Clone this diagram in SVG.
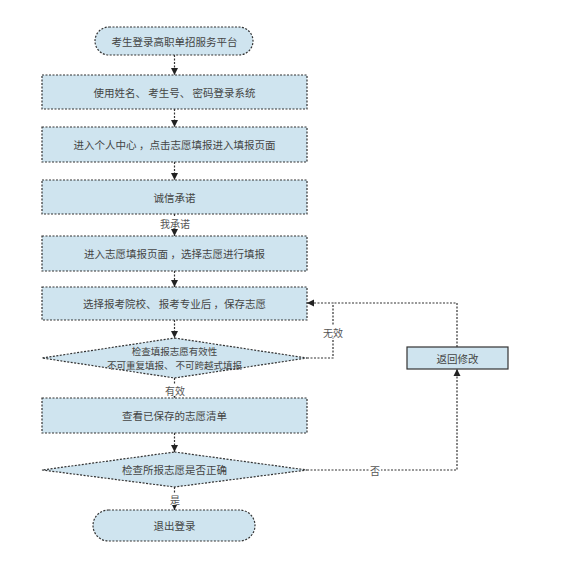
<svg xmlns="http://www.w3.org/2000/svg" width="564" height="574" viewBox="0 0 564 574">
<defs>
<style>
.n{fill:#cfe4ef;stroke:#333;stroke-width:1.2;stroke-dasharray:2 1.5}
.t{font-family:"Noto Sans CJK SC","Liberation Sans",sans-serif;font-size:10.5px;fill:#444;text-anchor:middle;dominant-baseline:central}
.d{font-size:9.5px}
.c{fill:none;stroke:#333;stroke-width:1.2;stroke-dasharray:2 1.5}
.l{font-family:"Noto Sans CJK SC","Liberation Sans",sans-serif;font-size:10px;fill:#555;text-anchor:middle;dominant-baseline:central}
</style>
<marker id="a" markerWidth="8" markerHeight="8" refX="7" refY="4" orient="auto" markerUnits="userSpaceOnUse"><path d="M0,0.5 L7,4 L0,7.5 Z" fill="#222"/></marker>
</defs>
<rect width="564" height="574" fill="#fff"/>
<g id="start"><rect class="n" x="95" y="27" width="158" height="28" rx="14"/><text class="t" x="174.5" y="41">考生登录高职单招服务平台</text></g>
<g id="login"><rect class="n" x="42" y="75" width="265" height="34"/><text class="t" x="174.5" y="92">使用姓名、 考生号、 密码登录系统</text></g>
<g id="center"><rect class="n" x="42" y="127" width="265" height="35"/><text class="t" x="174.5" y="144.5">进入个人中心 ，点击志愿填报进入填报页面</text></g>
<g id="promise"><rect class="n" x="42" y="180" width="265" height="34"/><text class="t" x="174.5" y="197">诚信承诺</text></g>
<g id="fill"><rect class="n" x="42" y="236" width="265" height="35"/><text class="t" x="174.5" y="253.5">进入志愿填报页面 ，选择志愿进行填报</text></g>
<g id="save"><rect class="n" x="42" y="287" width="265" height="33"/><text class="t" x="174.5" y="303.5">选择报考院校、 报考专业后 ，保存志愿</text></g>
<g id="check1"><polygon class="n" points="174.5,338 307,358 174.5,378 42,358"/><text class="t d" x="174.5" y="351">检查填报志愿有效性</text><text class="t d" x="174.5" y="365">不可重复填报、 不可跨越式填报</text></g>
<g id="list"><rect class="n" x="42" y="398" width="265" height="35"/><text class="t" x="174.5" y="415.5">查看已保存的志愿清单</text></g>
<g id="check2"><polygon class="n" points="174.5,452 307,470 174.5,487 42,470"/><text class="t" x="174.5" y="469.5">检查所报志愿是否正确</text></g>
<g id="end"><rect class="n" x="93" y="510" width="162" height="31" rx="15.5"/><text class="t" x="174.5" y="525.5">退出登录</text></g>
<g id="back"><rect class="n" x="407" y="347" width="101" height="22" style="stroke-dasharray:none"/><text class="t" x="457.5" y="358">返回修改</text></g>
<g id="connectors">
<line class="c" x1="174.5" y1="55" x2="174.5" y2="75" marker-end="url(#a)"/>
<line class="c" x1="174.5" y1="109" x2="174.5" y2="127" marker-end="url(#a)"/>
<line class="c" x1="174.5" y1="162" x2="174.5" y2="180" marker-end="url(#a)"/>
<line class="c" x1="174.5" y1="214" x2="174.5" y2="236" marker-end="url(#a)"/>
<line class="c" x1="174.5" y1="271" x2="174.5" y2="287" marker-end="url(#a)"/>
<line class="c" x1="174.5" y1="320" x2="174.5" y2="338" marker-end="url(#a)"/>
<line class="c" x1="174.5" y1="378" x2="174.5" y2="398" marker-end="url(#a)"/>
<line class="c" x1="174.5" y1="433" x2="174.5" y2="452" marker-end="url(#a)"/>
<line class="c" x1="174.5" y1="487" x2="174.5" y2="510" marker-end="url(#a)"/>
<polyline class="c" points="307,358 333,358 333,303 307,303" marker-end="url(#a)"/>
<polyline class="c" points="457,347 457,303 333,303"/>
<polyline class="c" points="307,470 457,470 457,369" marker-end="url(#a)"/>
<rect x="164" y="217" width="22" height="12" fill="#fff"/><text class="l" x="175" y="223">我承诺</text>
<rect x="166" y="384" width="18" height="12" fill="#fff"/><text class="l" x="175" y="390">有效</text>
<rect x="169" y="493" width="12" height="12" fill="#fff"/><text class="l" x="175" y="499">是</text>
<rect x="323" y="326" width="20" height="12" fill="#fff"/><text class="l" x="333" y="332">无效</text>
<rect x="369" y="464" width="12" height="12" fill="#fff"/><text class="l" x="375" y="470">否</text>
</g>
</svg>
